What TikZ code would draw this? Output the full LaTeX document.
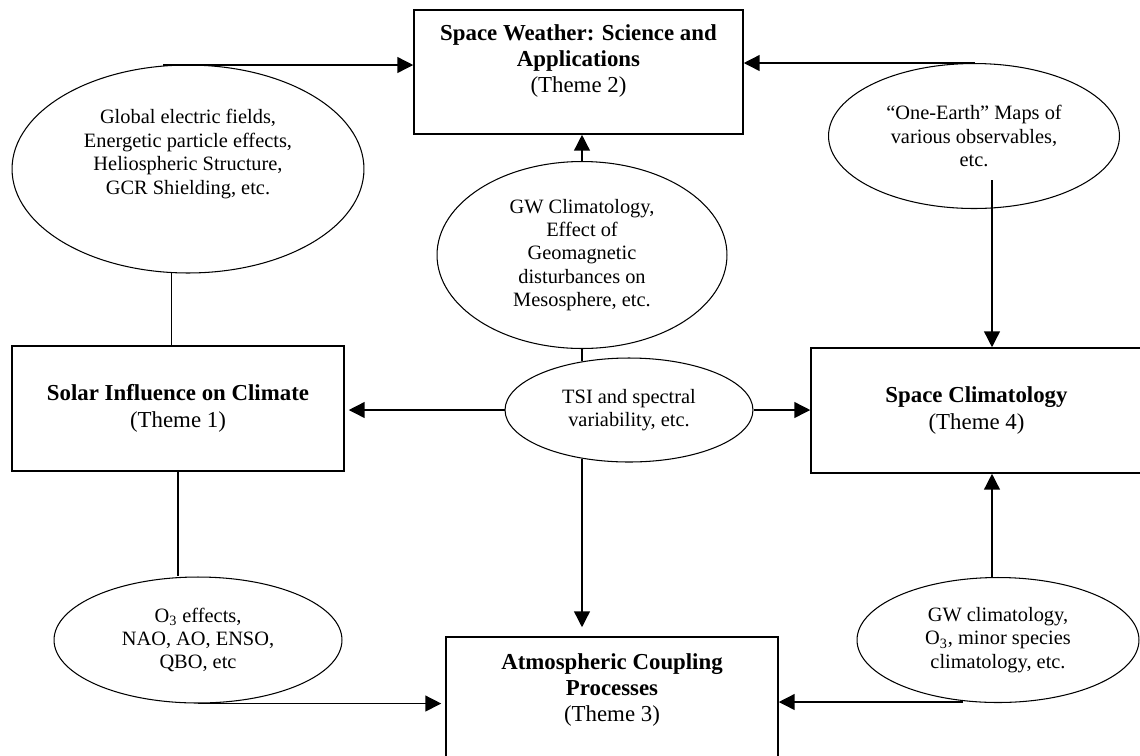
\documentclass[tikz,border=0pt]{standalone}
\usepackage{fontspec}
\setmainfont{Liberation Serif}
\usetikzlibrary{arrows.meta,shapes.geometric}
\tikzset{
  theme/.style={draw,line width=0.9pt,align=center,font=\fontsize{13}{15}\selectfont},
  themetext/.style={inner sep=0pt,align=center,font=\fontsize{13}{15}\selectfont},
  bubble/.style={draw,ellipse,line width=0.6pt,inner sep=0pt,align=center,font=\fontsize{11.6}{13.3}\selectfont},
  link/.style={line width=0.8pt}
}
\begin{document}
\begin{tikzpicture}[x=0.02cm,y=-0.02cm,>={Triangle[length=9pt,width=9pt]}]
\useasboundingbox (0,0) rectangle (1140,755);

% themes
\node[theme,minimum width=6.58cm,minimum height=2.48cm] (sw) at (578.5,72) {};
\node[themetext,anchor=north] (swtext) at (578.5,24) {\textbf{Space Weather: Science and}\\\textbf{Applications}\\(Theme 2)};
\node[theme,minimum width=6.64cm,minimum height=2.5cm] (solar) at (178,408.5) {\textbf{Solar Influence on Climate}\\(Theme 1)};
\node[theme,minimum width=6.62cm,minimum height=2.5cm] (spclim) at (976.5,410.5) {\textbf{Space Climatology}\\(Theme 4)};
\node[theme,minimum width=6.64cm,minimum height=2.5cm] (atmo) at (612,699.5) {};
\node[themetext,anchor=north] (atmotext) at (612,653) {\textbf{Atmospheric Coupling}\\\textbf{Processes}\\(Theme 3)};

% links
\node[bubble,minimum width=7.04cm,minimum height=4.16cm] (ge) at (188,169) {};
\node[bubble,draw=none] (getext) at (188,154) {Global electric fields,\\Energetic particle effects,\\Heliospheric Structure,\\GCR Shielding, etc.};
\node[bubble,minimum width=5.82cm,minimum height=2.9cm] (one) at (974,136) {``One-Earth'' Maps of\\various observables,\\etc.};
\node[bubble,minimum width=5.8cm,minimum height=3.74cm] (gwm) at (582,255) {GW Climatology,\\Effect of\\Geomagnetic\\disturbances on\\Mesosphere, etc.};
\node[bubble,minimum width=4.96cm,minimum height=2.08cm] (tsi) at (629,410) {TSI and spectral\\variability, etc.};
\node[bubble,minimum width=5.76cm,minimum height=2.52cm] (ozone) at (198,640) {O\textsubscript{3} effects,\\NAO, AO, ENSO,\\QBO, etc};
\node[bubble,minimum width=5.64cm,minimum height=2.5cm] (gwc) at (998,640) {GW climatology,\\O\textsubscript{3}, minor species\\climatology, etc.};

\coordinate (geout) at (163,65);
\coordinate (oneout) at (975,63);
\coordinate (onedown) at (992,180);
\coordinate (gwcout) at (963,702);

\draw[->,link] (geout) -- (geout -| sw.west);
\draw[->,link] (oneout) -- (oneout -| sw.east);
\draw[->,link] (gwm.north) -- (gwm.north |- sw.south);
\draw[link] (ge.-99) -- (ge.-99 |- solar.north);
\draw[link] (solar.south) -- (solar.south |- ozone.north);
\draw[link] (gwm.south) -- (gwm.south |- tsi.134);
\draw[->,link,shorten >=0.08cm] (tsi.west) -- (tsi.west -| solar.east);
\draw[->,link] (tsi.east) -- (tsi.east -| spclim.west);
\draw[->,link,shorten >=0.18cm] (gwm.south |- tsi.-134) -- (gwm.south |- atmo.north);
\draw[->,link] (onedown) -- (onedown |- spclim.north);
\draw[->,link] (onedown |- gwc.north) -- (onedown |- spclim.south);
\draw[->,link,shorten >=0.08cm] (ozone.south) -- (ozone.south -| atmo.west);
\draw[->,link] (gwcout) -- (gwcout -| atmo.east);
\end{tikzpicture}
\end{document}
